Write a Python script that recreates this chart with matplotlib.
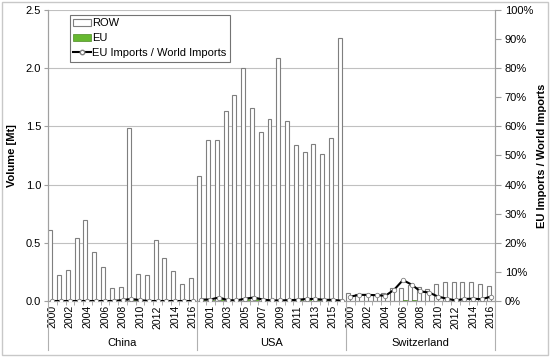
import matplotlib
matplotlib.use("Agg")
import matplotlib.pyplot as plt
import numpy as np
from matplotlib.ticker import FuncFormatter, MultipleLocator
from matplotlib.patches import Patch
from matplotlib.lines import Line2D

plt.rcParams["font.family"] = ["Liberation Sans", "DejaVu Sans"]

years = list(range(2000, 2017))
countries = ["China", "USA", "Switzerland"]

# rest-of-world imports [Mt]
row_china = [0.61, 0.22, 0.27, 0.54, 0.70, 0.42, 0.29, 0.11, 0.12, 1.49,
             0.23, 0.22, 0.52, 0.37, 0.26, 0.15, 0.20]
row_usa = [1.07, 1.38, 1.38, 1.63, 1.77, 2.00, 1.66, 1.45, 1.56, 2.09,
           1.55, 1.34, 1.28, 1.35, 1.26, 1.40, 2.26]
row_swiss = [0.066, 0.06, 0.06, 0.05, 0.07, 0.11, 0.11, 0.14, 0.12, 0.10,
             0.146, 0.16, 0.16, 0.16, 0.166, 0.15, 0.13]

# EU imports [Mt] (barely visible)
eu_china = [0.0, 0.0, 0.0, 0.0, 0.0, 0.0, 0.0, 0.0, 0.0, 0.01,
            0.0, 0.0, 0.0, 0.0, 0.0, 0.0, 0.0]
eu_usa = [0.005, 0.007, 0.016, 0.005, 0.004, 0.016, 0.02, 0.007, 0.003, 0.004,
          0.005, 0.005, 0.009, 0.009, 0.005, 0.006, 0.002]
eu_swiss = [0.001, 0.001, 0.001, 0.001, 0.001, 0.004, 0.008, 0.008, 0.004, 0.003,
            0.002, 0.001, 0.0, 0.001, 0.001, 0.001, 0.002]

# EU imports / world imports
ratio_china = [0.0, 0.0, 0.0, 0.0, 0.0, 0.0, 0.0, 0.0, 0.003, 0.007,
               0.003, 0.0, 0.0, 0.0, 0.0, 0.0, 0.0]
ratio_usa = [0.005, 0.005, 0.012, 0.003, 0.002, 0.008, 0.012, 0.005, 0.002, 0.002,
             0.003, 0.004, 0.007, 0.007, 0.004, 0.004, 0.001]
ratio_swiss = [0.015, 0.021, 0.021, 0.020, 0.018, 0.039, 0.072, 0.056, 0.033, 0.029,
               0.015, 0.008, 0.002, 0.007, 0.008, 0.006, 0.015]

row = row_china + row_usa + row_swiss
eu = eu_china + eu_usa + eu_swiss
ratios = [ratio_china, ratio_usa, ratio_swiss]
n = len(years)
x = np.arange(len(row))

fig = plt.figure(figsize=(5.5, 3.57), dpi=100)
W, H = 550, 357
ax = fig.add_axes([48 / W, (H - 301) / H, 447 / W, 291 / H])

bw = 0.45
ax.bar(x - bw / 2, row, bw, color="white", edgecolor="#7f7f7f", linewidth=0.8, zorder=3)
ax.bar(x + bw / 2, eu, bw, color="#66b830", edgecolor="#4d8a24", linewidth=0.5, zorder=3)

ax.set_xlim(-0.5, len(row) - 0.5)
ax.set_ylim(0, 2.5)
ax.yaxis.set_major_locator(MultipleLocator(0.5))
ax.yaxis.set_major_formatter(FuncFormatter(lambda v, p: f"{v:.1f}"))
ax.grid(axis="y", color="#c0c0c0", linewidth=0.8, zorder=0)
ax.set_axisbelow(True)
ax.set_ylabel("Volume [Mt]", fontsize=8, fontweight="bold", labelpad=6)
ax.tick_params(axis="y", labelsize=8, length=3, color="#a0a0a0", pad=2)

ax.set_xticks(x[::2])
ax.set_xticklabels([str(years[i % n]) for i in x[::2]], rotation=90, fontsize=7.5)
ax.set_xticks(np.arange(-0.5, len(row), 1), minor=True)
ax.tick_params(axis="x", which="major", length=0, pad=3)
ax.tick_params(axis="x", which="minor", length=3, color="#a0a0a0")

ax.spines["top"].set_visible(False)
for s in ["left", "right", "bottom"]:
    ax.spines[s].set_color("#a0a0a0")

# group separators and labels
trans = ax.get_xaxis_transform()
y_low = (301 - 350) / 291
for b in [-0.5, n - 0.5, 2 * n - 0.5, 3 * n - 0.5]:
    ax.add_line(Line2D([b, b], [0, y_low], transform=trans, color="#b0b0b0",
                       linewidth=0.8, clip_on=False))
for k, c in enumerate(countries):
    ax.text(k * n + (n - 1) / 2, (301 - 343) / 291, c, transform=trans,
            ha="center", va="center", fontsize=8)

ax2 = ax.twinx()
ax2.set_ylim(0, 1)
ax2.yaxis.set_major_locator(MultipleLocator(0.1))
ax2.yaxis.set_major_formatter(FuncFormatter(lambda v, p: f"{v * 100:.0f}%"))
ax2.tick_params(axis="y", labelsize=8, length=4, color="#a0a0a0", pad=3)
ax2.set_ylabel("EU Imports / World Imports", fontsize=8, fontweight="bold", labelpad=3)
ax2.spines["top"].set_visible(False)
for s in ["left", "right", "bottom"]:
    ax2.spines[s].set_color("#a0a0a0")

for k, r in enumerate(ratios):
    ax2.plot(x[k * n:(k + 1) * n], r, color="black", linewidth=1.5,
             marker="o", markersize=3.2, markerfacecolor="white",
             markeredgecolor="#808080", markeredgewidth=0.6, zorder=4)

handles = [
    Patch(facecolor="white", edgecolor="#7f7f7f", linewidth=0.8, label="ROW"),
    Patch(facecolor="#66b830", edgecolor="#4d8a24", linewidth=0.5, label="EU"),
    Line2D([], [], color="black", linewidth=1.5, marker="o", markersize=3.2,
           markerfacecolor="white", markeredgecolor="#808080", label="EU Imports / World Imports"),
]
leg = ax2.legend(handles=handles, loc="upper left", bbox_to_anchor=(22 / 447, 1 - 5 / 291),
                 fontsize=8, frameon=True, fancybox=False, edgecolor="#505050",
                 borderpad=0.3, labelspacing=0.45, handlelength=1.6, handletextpad=0.1,
                 borderaxespad=0)
leg.get_frame().set_linewidth(0.8)

# outer border
fig.patches.append(plt.Rectangle((2 / W, 2 / H), 1 - 4 / W, 1 - 4 / H, transform=fig.transFigure,
                                 fill=False, edgecolor="#c8c8c8", linewidth=1.0))

fig.savefig("out.png", dpi=100)
